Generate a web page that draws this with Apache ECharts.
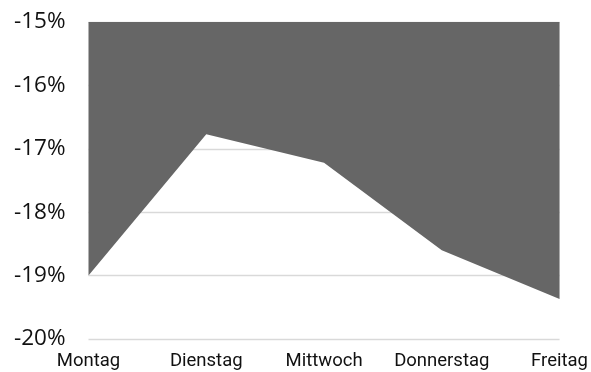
<!DOCTYPE html>
<html>
<head>
<meta charset="utf-8">
<script src="https://cdn.jsdelivr.net/npm/echarts@6/dist/echarts.min.js"></script>
<style>
html,body{margin:0;padding:0;background:#fff;}
#chart{width:591px;height:372px;}
</style>
</head>
<body>
<div id="chart"></div>
<script>
const categories = ['Montag', 'Dienstag', 'Mittwoch', 'Donnerstag', 'Freitag'];
const values = [-19.0, -16.77, -17.22, -18.6, -19.37];
const yMin = -20, yMax = -15, yStep = 1;

const chart = echarts.init(document.getElementById('chart'), null, {renderer: 'canvas'});
chart.setOption({
  animation: false,
  backgroundColor: '#ffffff',
  grid: {left: 88.5, right: 30.5, top: 22, bottom: 33, containLabel: false},
  xAxis: {
    type: 'category',
    data: categories,
    boundaryGap: false,
    axisLine: {show: false},
    axisTick: {show: false},
    axisLabel: {color: '#111', fontFamily: 'Roboto', fontSize: 18.5, margin: 13, interval: 0}
  },
  yAxis: {
    type: 'value',
    min: yMin, max: yMax, interval: yStep,
    axisLine: {show: false},
    axisTick: {show: false},
    splitLine: {lineStyle: {color: '#d9d9d9', width: 1.3}},
    axisLabel: {color: '#111', fontFamily: 'Open Sans', fontSize: 22.5, margin: 23, formatter: '{value}%'}
  },
  series: [{
    type: 'line',
    data: values,
    symbol: 'none',
    lineStyle: {width: 0},
    areaStyle: {origin: 'end', color: '#666666', opacity: 1}
  }]
});
</script>
</body>
</html>
